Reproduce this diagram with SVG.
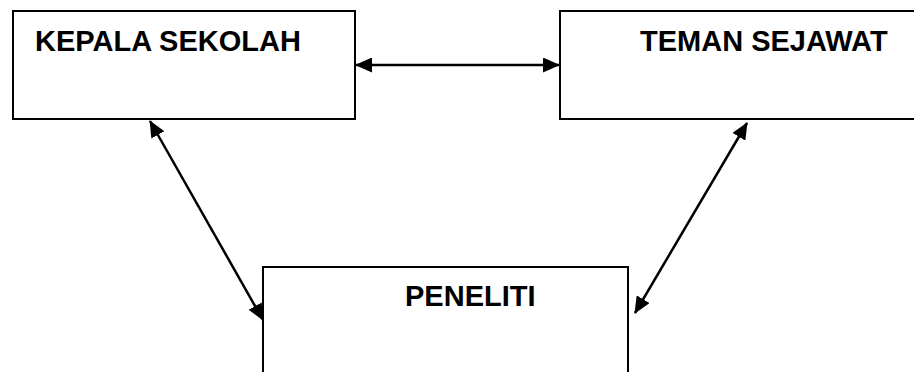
<svg xmlns="http://www.w3.org/2000/svg" width="914" height="372" viewBox="0 0 914 372">
<defs>
<style>
.box{fill:#fff;stroke:#000;stroke-width:2}
.lbl{font-family:"Liberation Sans",Arial,sans-serif;font-weight:bold;font-size:29px;fill:#000}
.con{stroke:#000;stroke-width:2.5;fill:none;marker-start:url(#ah);marker-end:url(#ah)}
</style>
<marker id="ah" viewBox="0 0 17 15" refX="16" refY="7.5" markerWidth="17" markerHeight="15" markerUnits="userSpaceOnUse" orient="auto-start-reverse">
<path d="M0,0 L17,7.5 L0,15 z" fill="#000"/>
</marker>
</defs>
<rect width="914" height="372" fill="#fff"/>
<g id="kepala">
<rect class="box" x="13" y="11" width="342" height="108"/>
<text class="lbl" x="35" y="51">KEPALA SEKOLAH</text>
</g>
<g id="teman">
<rect class="box" x="560" y="11" width="370" height="108"/>
<text class="lbl" x="640" y="51">TEMAN SEJAWAT</text>
</g>
<g id="peneliti">
<rect class="box" x="263" y="267" width="365" height="120"/>
<text class="lbl" x="405" y="306">PENELITI</text>
</g>
<g id="connectors">
<line class="con" x1="356" y1="65" x2="559" y2="65"/>
<line class="con" x1="150" y1="121" x2="263" y2="320"/>
<line class="con" x1="747" y1="123" x2="635" y2="313"/>
</g>
</svg>
